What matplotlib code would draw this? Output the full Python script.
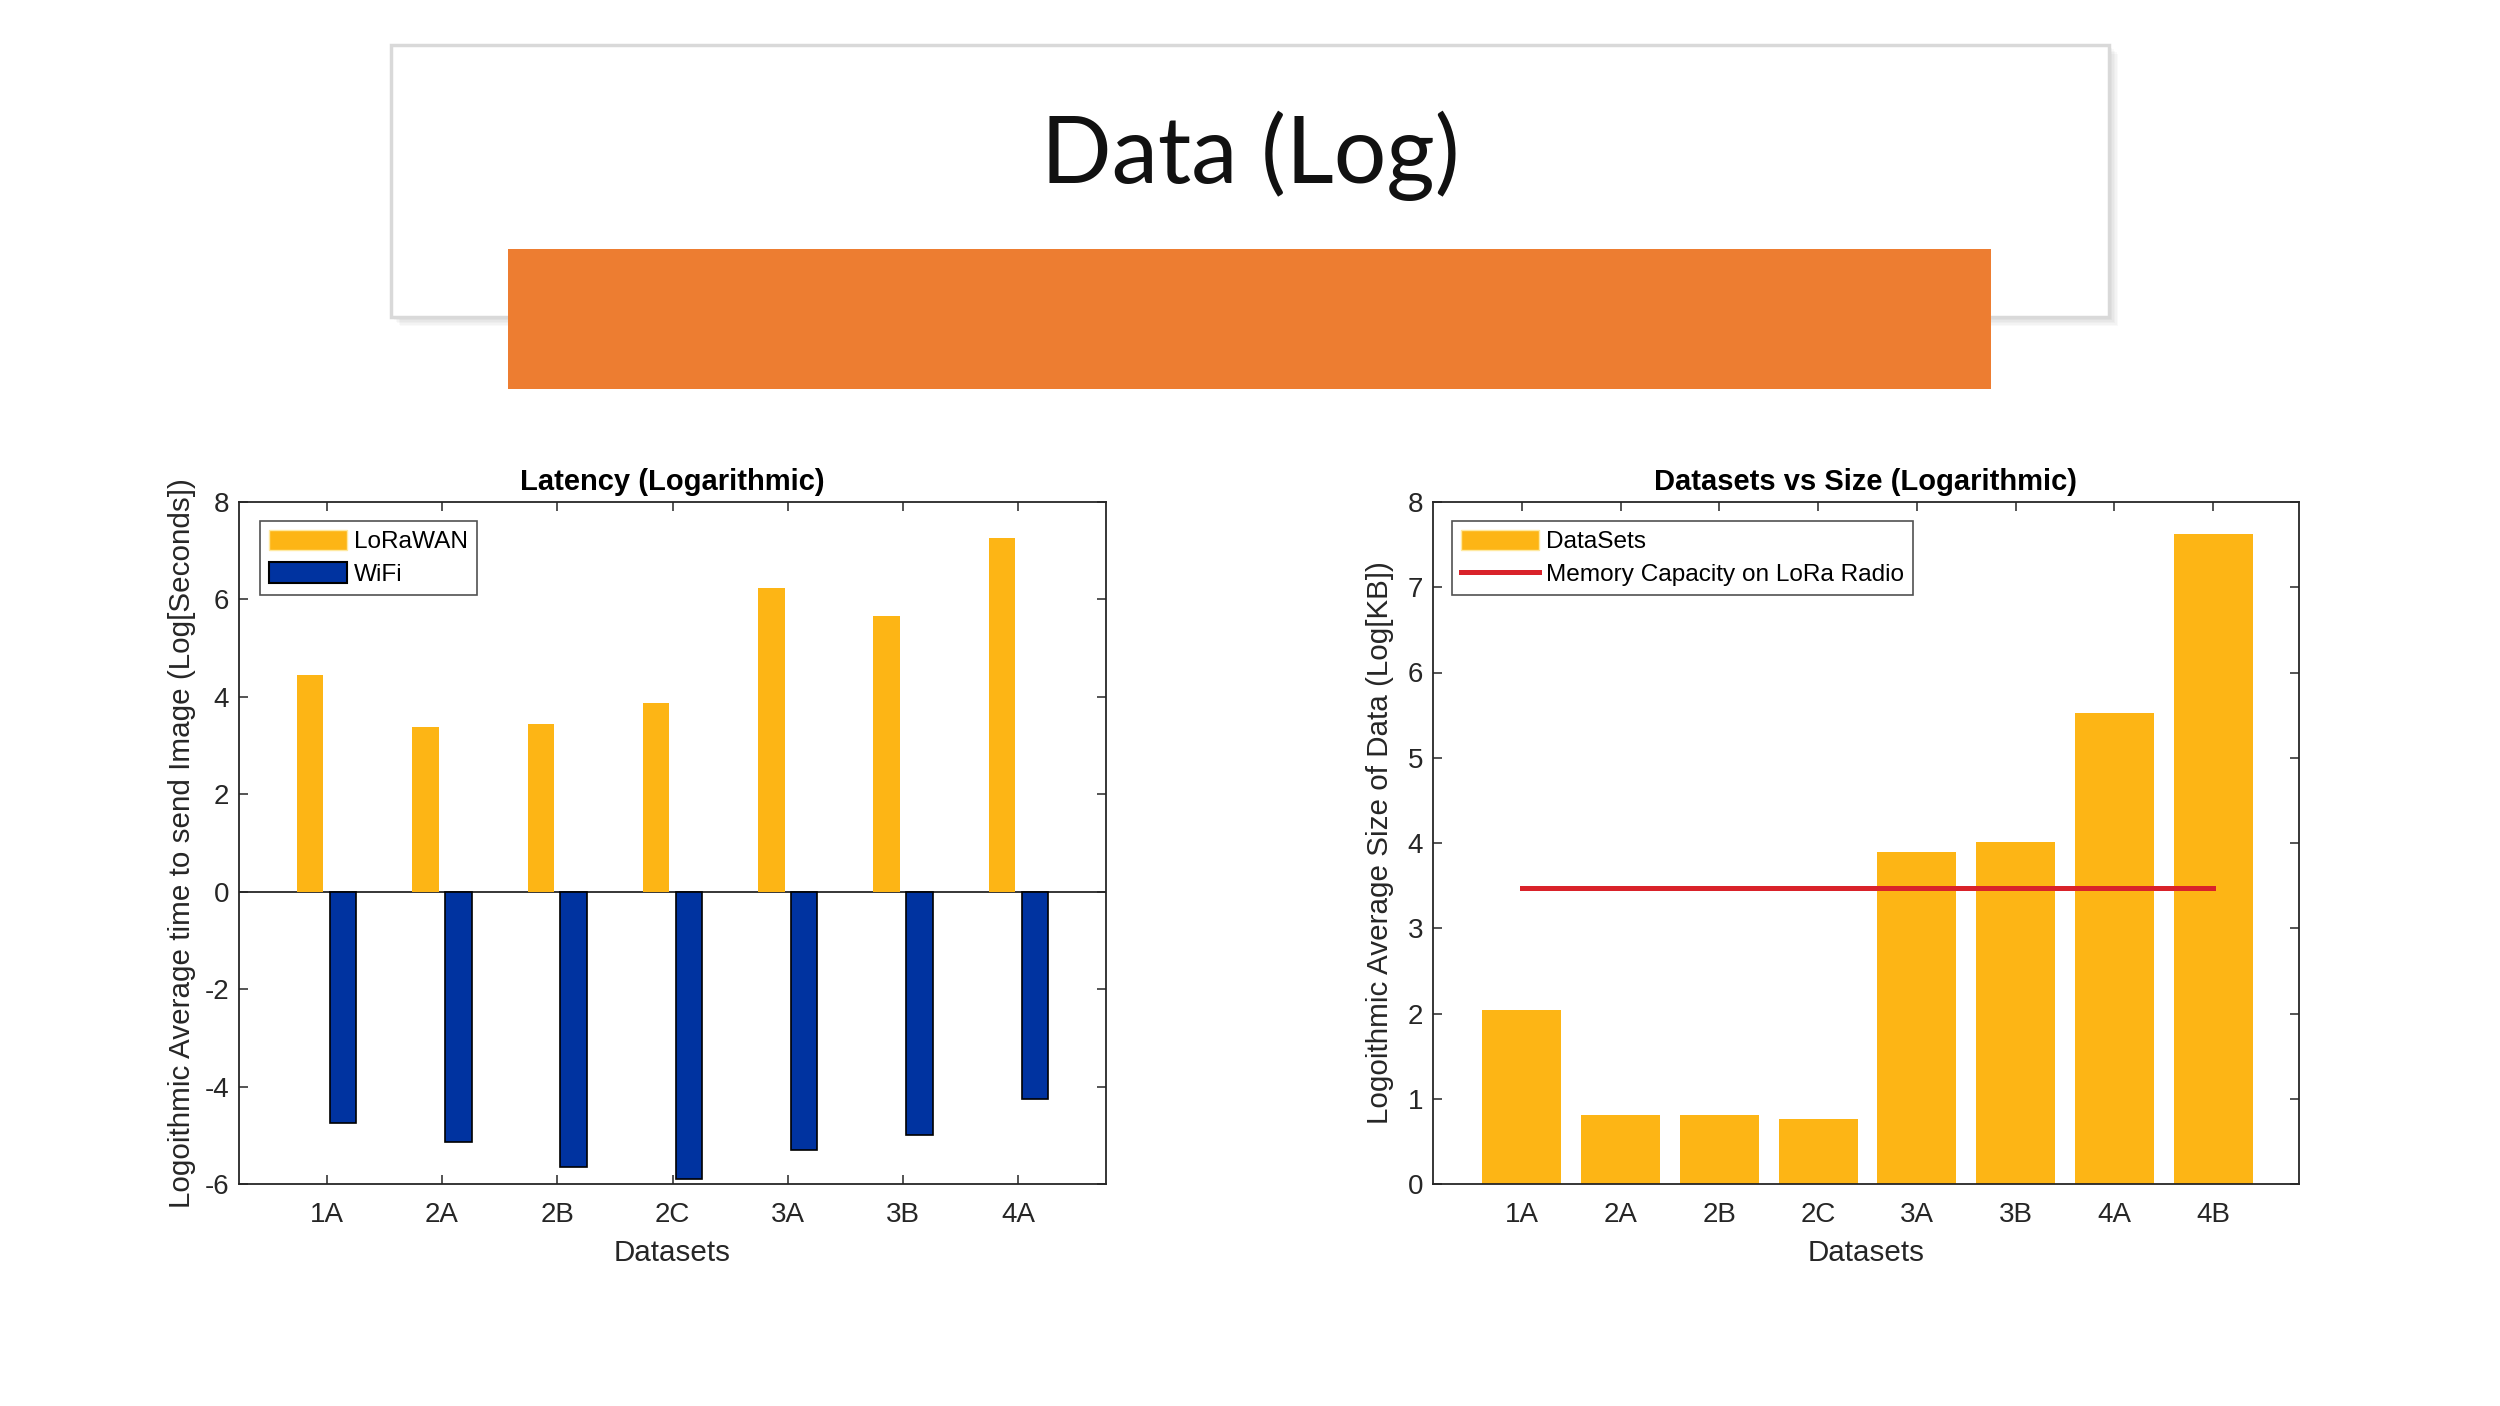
import numpy as np
import matplotlib
matplotlib.use("Agg")
import matplotlib.pyplot as plt
from matplotlib.patches import Rectangle, Patch
from matplotlib.lines import Line2D

# latency chart data (log seconds)
latency_sets = ['1A', '2A', '2B', '2C', '3A', '3B', '4A']
lorawan = [4.45, 3.39, 3.45, 3.88, 6.24, 5.66, 7.27]
wifi = [-4.75, -5.13, -5.65, -5.89, -5.30, -5.00, -4.25]

# size chart data (log KB)
size_sets = ['1A', '2A', '2B', '2C', '3A', '3B', '4A', '4B']
sizes = [2.04, 0.81, 0.81, 0.76, 3.89, 4.01, 5.52, 7.62]
memory_capacity = 3.47

YELLOW = '#FDB515'
BLUE = '#0033A0'
RED = '#D9222A'
ORANGE = '#ED7D31'
AXC = '#262626'

plt.rcParams['font.family'] = ['Liberation Sans', 'DejaVu Sans']
plt.rcParams['axes.unicode_minus'] = False

fig = plt.figure(figsize=(25, 14.06), dpi=100)
fig.patch.set_facecolor('white')

# slide header: shadowed white box, orange bar, title
bx, by, bw, bh = 391 / 2500, 1 - 317 / 1406, (2109 - 391) / 2500, (317 - 45) / 1406
for i in range(6):
    off = (i + 1) * 1.5
    fig.add_artist(Rectangle((bx + off / 2500, by - off / 1406), bw, bh,
                             transform=fig.transFigure, facecolor='#000000',
                             alpha=0.025, edgecolor='none', zorder=0))
fig.add_artist(Rectangle((bx, by), bw, bh, transform=fig.transFigure,
                         facecolor='white', edgecolor='#D9D9D9', lw=2.5, zorder=1))
fig.add_artist(Rectangle((508 / 2500, 1 - 389 / 1406), (1991 - 508) / 2500, 140 / 1406,
                         transform=fig.transFigure, facecolor=ORANGE,
                         edgecolor='none', zorder=2))
fig.text(0.5, 1 - 183 / 1406, 'Data (Log)', ha='center', va='baseline',
         fontsize=67, family=['Lato', 'DejaVu Sans'], fontweight='normal',
         color='#111111', zorder=3)


def style_axes(ax):
    for s in ax.spines.values():
        s.set_color(AXC)
        s.set_linewidth(1.3)
    ax.tick_params(direction='in', top=True, right=True, length=6.5, width=1.1,
                   colors=AXC, labelsize=20, labelcolor=AXC)
    ax.tick_params(axis='x', pad=13)
    ax.tick_params(axis='y', pad=7)


# left: latency
ax1 = fig.add_axes([239 / 2500, 1 - 1184 / 1406, 867 / 2500, 682 / 1406])
x1 = np.arange(1, len(latency_sets) + 1)
bw1 = 0.229
ax1.axhline(0, color=AXC, lw=1.3, zorder=1)
ax1.bar(x1 - 0.143, lorawan, width=bw1, color=YELLOW, edgecolor='none', zorder=2)
ax1.bar(x1 + 0.143, wifi, width=bw1, color=BLUE, edgecolor='black', lw=1.2, zorder=2)
ax1.set_xlim(0.24, 7.76)
ax1.set_ylim(-6, 8)
ax1.set_yticks(np.arange(-6, 9, 2))
ax1.set_xticks(x1)
ax1.set_xticklabels(latency_sets)
style_axes(ax1)
ax1.set_title('Latency (Logarithmic)', fontsize=21, fontweight='bold', pad=9)
ax1.set_xlabel('Datasets', fontsize=21.3, color=AXC, labelpad=8)
ax1.set_ylabel('Logoithmic Average time to send Image (Log[Seconds])',
               fontsize=21.3, color=AXC, labelpad=6)
h1 = [Patch(facecolor=YELLOW, edgecolor='#FFE9A0', lw=1),
      Patch(facecolor=BLUE, edgecolor='black', lw=1.5)]
leg1 = ax1.legend(h1, ['LoRaWAN', 'WiFi'], loc='upper left',
                  bbox_to_anchor=(21 / 867, 1 - 19 / 682), borderaxespad=0,
                  fontsize=17.6, fancybox=False, handlelength=3.2, handleheight=0.9,
                  handletextpad=0.3, labelspacing=0.38, borderpad=0.35)
leg1.get_frame().set_edgecolor(AXC)
leg1.get_frame().set_linewidth(1.2)

# right: sizes
ax2 = fig.add_axes([1433 / 2500, 1 - 1184 / 1406, 866 / 2500, 682 / 1406])
x2 = np.arange(1, len(size_sets) + 1)
ax2.bar(x2, sizes, width=0.8, color=YELLOW, edgecolor='none', zorder=2)
ax2.plot([x2[0], x2[-1]], [memory_capacity, memory_capacity], color=RED, lw=3.6, zorder=3)
ax2.set_xlim(0.1, 8.87)
ax2.set_ylim(0, 8)
ax2.set_yticks(np.arange(0, 9, 1))
ax2.set_xticks(x2)
ax2.set_xticklabels(size_sets)
style_axes(ax2)
ax2.set_title('Datasets vs Size (Logarithmic)', fontsize=21, fontweight='bold', pad=9)
ax2.set_xlabel('Datasets', fontsize=21.3, color=AXC, labelpad=8)
ax2.set_ylabel('Logoithmic Average Size of Data (Log[KB])', fontsize=21.3,
               color=AXC, labelpad=10)
h2 = [Patch(facecolor=YELLOW, edgecolor='#FFE9A0', lw=1),
      Line2D([0], [0], color=RED, lw=3.6)]
leg2 = ax2.legend(h2, ['DataSets', 'Memory Capacity on LoRa Radio'], loc='upper left',
                  bbox_to_anchor=(19 / 866, 1 - 19 / 682), borderaxespad=0,
                  fontsize=17.6, fancybox=False, handlelength=3.2, handleheight=0.9,
                  handletextpad=0.3, labelspacing=0.38, borderpad=0.35)
leg2.get_frame().set_edgecolor(AXC)
leg2.get_frame().set_linewidth(1.2)

fig.savefig('out.png', dpi=100, facecolor='white')
